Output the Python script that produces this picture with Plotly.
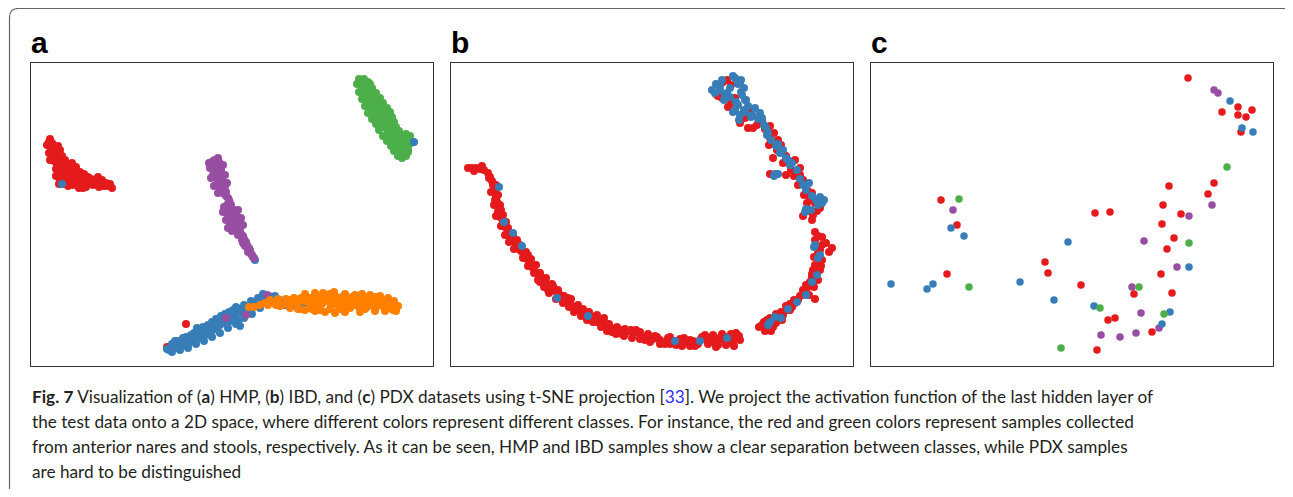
import plotly.graph_objects as go

# page size and the 8px body margin of the html page
PAGE_W, PAGE_H = 1293, 497
OFF = 8
W, H = PAGE_W - OFF, PAGE_H - 2 * OFF

# ---------------- Panel a (HMP) : t-SNE coordinates ----------------
a_red_x = [50,52,51,54,53,56,52,55,58,54,58,61,57,63,60,66,70,62,67,72,65,70,74,78,72,76,60,64,68,73,77,80,82,85,88,90,93,98,97,101,104,108,112,80,86,56,59,
           49,51,55,57,60,53,56,61,63,66,69,75,79,83,87,91,95,99,102,106,110,73,77,81,84,
           47,49,50,60,62,65,58,186,167]
a_red_y = [139,143,147,146,151,150,155,157,155,161,161,164,166,167,170,170,168,174,175,173,179,180,178,176,163,167,180,184,186,185,183,172,180,184,177,182,185,177,184,183,186,186,188,186,187,176,184,
           142,150,153,158,158,159,169,177,160,164,178,181,188,188,180,179,180,187,180,183,184,170,172,176,174,
           145,153,160,150,156,160,146,324,347]
a_green_x = [359,364,360,366,370,363,368,372,366,371,375,369,374,378,371,376,381,374,379,384,377,382,387,380,385,390,383,388,393,387,392,396,390,395,399,393,398,403,408,396,401,406,398,403,408,400,405,
             361,365,362,367,372,369,375,372,378,381,384,387,389,392,395,397,400,403,406,408,411,401,385,376,368,
             368,372,376,380,383,387,390,392,394,396,399,402,406,410,
             357,359,362,365,368,372,376,379,383,387,391,394,398,402]
a_green_y = [79,79,84,84,84,89,89,89,94,94,94,99,99,99,104,104,104,109,109,109,114,114,114,119,119,119,124,124,124,129,129,129,134,134,134,139,139,139,139,144,144,144,149,149,149,154,154,
             81,87,91,97,101,103,107,111,112,117,122,126,131,135,138,142,146,151,156,152,143,155,127,116,106,
             82,88,93,98,103,108,112,117,122,127,131,136,134,136,
             84,92,99,106,113,119,124,130,136,141,146,151,156,158]
a_purple_x = [215,219,212,217,214,219,216,221,218,222,220,224,223,226,229,227,231,225,230,234,228,233,237,231,236,234,238,240,238,243,242,246,245,249,248,251,253,
              213,218,210,221,213,222,216,225,221,226,228,230,224,233,227,235,230,239,236,241,244,243,247,250,252,254,
              209,211,214,223,225,227,218,223,226,238,241,243,228,232,
              226,246,267]
a_purple_y = [160,162,165,167,171,172,176,177,181,183,187,189,193,196,200,205,205,210,211,210,215,216,216,221,222,226,227,231,235,236,240,242,246,248,252,254,257,
              161,158,168,170,175,179,185,186,191,192,198,203,207,212,212,219,224,224,229,234,239,243,245,250,255,258,
              163,178,186,165,175,183,193,212,220,210,218,225,228,231,
              318,315,295]
a_blue_x = [62,414,255,167,171,175,172,179,183,178,187,191,186,195,199,194,203,198,207,203,211,208,215,212,219,216,223,221,228,225,231,230,235,236,240,238,240,244,247,250,252,256,259,262,266,268,272,197,
            169,173,177,181,185,189,193,197,201,205,209,213,217,220,224,227,232,233,237,242,246,249,254,258,262,264,269,275,280,285,290,296,303,
            172,180,188,196,204,212,220,228,236,244,252,260,
            175,183,191,199,207,214,222,229,236,244,251,258,263]
a_blue_y = [184,142,260,349,347,346,344,344,343,341,341,339,337,337,335,333,333,329,331,327,328,325,325,322,322,319,320,316,318,314,314,321,312,318,326,322,310,311,309,312,306,305,303,300,298,302,298,328,
            350,349,348,346,345,343,341,339,337,335,333,330,327,325,323,321,318,310,308,313,312,308,303,301,304,297,296,296,300,305,305,306,305,
            352,350,348,344,341,337,333,328,324,318,314,308,
            341,338,335,331,327,322,317,312,307,305,301,298,294]
a_orange_x = [249,254,260,265,270,274,278,282,286,290,294,297,301,304,308,311,314,317,320,322,325,327,331,333,337,340,343,346,349,352,355,358,361,364,367,370,373,376,379,382,385,388,391,393,312,330,350,365,320,340,
              268,276,284,288,292,299,306,310,316,318,324,328,335,338,342,345,348,353,356,360,363,366,369,372,375,378,381,384,387,390,395,334,323,
              300,305,315,330,345,355,362,370,380,388,394,398,396,385,375,360,345,335,325,315,305,298,290,280]
a_orange_y = [307,307,305,303,300,302,299,301,299,300,298,303,298,301,302,298,303,300,297,304,295,301,305,299,303,298,305,300,304,297,302,306,300,304,307,299,305,297,302,306,303,306,308,310,309,309,308,309,310,309,
              305,305,304,303,302,300,297,306,296,306,300,296,296,306,297,308,299,305,299,308,298,302,305,300,308,298,300,305,302,305,308,292,293,
              309,294,293,294,294,295,294,295,296,298,301,306,311,311,311,312,312,313,312,311,310,309,308,306]

# ---------------- Panel b (IBD) ----------------
b_red_x = [468,472,476,480,484,488,490,492,493,494,495,496,497,498,498,500,503,505,508,511,515,518,522,525,527,530,533,537,542,546,550,555,560,565,570,575,580,585,590,595,600,605,610,615,620,626,633,640,647,653,660,667,673,680,687,693,700,705,710,715,720,725,730,735,739,
           495,500,502,510,520,528,535,540,548,552,558,562,568,578,582,596,604,612,622,636,645,655,665,676,690,698,712,718,728,733,722,736,705,684,670,
           474,482,489,496,491,498,494,501,496,503,506,501,508,505,513,509,517,514,520,526,523,531,528,536,534,540,538,546,544,553,549,558,556,564,563,571,569,577,574,583,581,589,587,597,593,603,601,609,607,617,616,625,624,631,632,640,640,648,650,657,660,668,670,680,682,690,695,702,708,713,716,724,726,731,740,734,
           723,731,718,722,731,750,752,740,753,762,770,770,778,777,773,786,795,800,800,770,786,798,808,810,807,815,813,808,820,
           727,716,735,728,745,757,748,765,774,781,769,783,791,794,803,804,812,817,803,812,
           815,822,815,822,832,818,818,817,815,812,810,808,805,815,802,798,795,792,787,783,778,773,767,762,767,773,782,790,813,820,
           818,826,820,814,822,815,821,812,818,806,814,803,809,800,794,790,786,781,776,770,764,759,765,771,776,829]
b_red_y = [168,168,168,169,170,173,177,181,185,189,193,197,202,207,212,217,222,227,232,237,243,247,252,256,259,263,268,273,278,283,287,291,295,299,303,307,310,312,315,318,322,325,327,329,330,332,333,335,337,339,340,341,341,342,342,341,340,339,338,338,338,337,337,337,336,
           200,205,215,240,245,255,265,282,290,284,290,300,298,305,315,322,318,332,334,330,340,336,344,345,346,344,342,345,341,343,334,333,335,338,337,
           171,166,178,185,192,195,205,210,216,215,222,226,228,235,236,242,240,249,250,252,258,259,266,265,273,273,280,278,287,286,293,292,299,296,303,299,307,306,312,309,316,312,320,315,322,320,327,324,331,327,334,329,336,330,338,332,339,334,342,337,344,338,344,339,346,340,346,337,344,335,347,340,345,334,340,346,
           82,85,96,98,103,110,115,123,128,121,126,138,140,150,158,156,160,168,175,174,175,185,191,198,203,203,215,211,208,
           80,94,98,107,118,125,128,129,133,145,145,163,170,176,180,195,193,211,216,220,
           232,237,240,245,248,253,262,267,272,277,282,287,292,299,295,300,303,307,310,315,318,320,320,325,328,327,320,310,270,270,
           236,243,250,257,260,265,266,274,280,285,287,290,295,296,300,304,306,312,314,318,322,327,331,331,323,252]
b_blue_x = [504,522,557,588,675,700,727,499,513,
            735,740,720,725,742,738,745,735,745,752,760,758,764,768,767,776,780,786,790,775,803,806,820,824,805,818,730,
            733,741,720,715,727,744,741,736,748,740,755,762,766,771,778,783,788,792,797,800,809,812,816,822,806,811,774,778,
            716,722,712,724,730,738,746,744,733,751,739,
            815,820,812,797,788,768,775,817,814,818,806,781,770]
b_blue_y = [222,246,298,316,341,341,338,187,233,
            78,82,90,96,95,105,100,110,112,115,113,119,125,133,135,146,153,158,165,174,185,190,197,200,212,205,88,
            76,80,86,93,93,88,92,102,106,115,108,118,128,140,144,150,160,163,170,179,183,196,200,203,209,210,176,174,
            84,80,90,100,97,84,100,110,112,117,120,
            245,255,282,302,309,325,317,275,247,258,295,318,322]

# ---------------- Panel c (PDX) ----------------
c_red_x = [1188,1222,1238,1238,1246,1252,1241,941,957,947,1169,1214,1208,1163,1181,1095,1110,1162,1174,1167,1045,1048,1081,1161,1134,1172,1108,1115,1152,1097]
c_red_y = [78,112,107,115,117,110,132,200,225,274,186,183,194,205,214,213,212,224,238,249,262,273,285,274,294,293,320,318,332,350]
c_blue_x = [1230,1242,1253,951,964,891,927,933,1020,1068,1054,1094,1189,1170,1162]
c_blue_y = [101,128,132,228,236,284,289,284,282,242,300,306,267,312,324]
c_green_x = [1227,959,969,1189,1139,1100,1164,1061]
c_green_y = [167,199,287,243,287,308,314,348]
c_purple_x = [1214,1218,953,1189,1212,1144,1177,1132,1141,1136,1159,1101,1120]
c_purple_y = [90,93,210,216,205,241,267,287,313,333,328,335,337]

RED, BLUE, GREEN, PURPLE, ORANGE = "#e41a1c", "#377eb8", "#4daf4a", "#984ea3", "#ff7f00"

panel_labels = ["a", "b", "c"]
caption_lines = [
    "<b>Fig. 7</b> Visualization of (<b>a</b>) HMP, (<b>b</b>) IBD, and (<b>c</b>) PDX datasets using t-SNE projection [<span style='color:#2b2bff'>33</span>]. We project the activation function of the last hidden layer of",
    "the test data onto a 2D space, where different colors represent different classes. For instance, the red and green colors represent samples collected",
    "from anterior nares and stools, respectively. As it can be seen, HMP and IBD samples show a clear separation between classes, while PDX samples",
    "are hard to be distinguished",
]


def px(x):
    return (x - OFF) / W


def py(y):
    return 1 - (y - OFF) / H


fig = go.Figure()


def add(xs, ys, color, ax, size=8):
    fig.add_trace(go.Scatter(
        x=xs, y=ys, mode="markers",
        marker=dict(color=color, size=size, line=dict(width=0)),
        xaxis="x" + ax, yaxis="y" + ax, showlegend=False, hoverinfo="skip"))


add(a_red_x, a_red_y, RED, "")
add(a_green_x, a_green_y, GREEN, "")
add(a_blue_x, a_blue_y, BLUE, "")
add(a_purple_x, a_purple_y, PURPLE, "")
add(a_orange_x, a_orange_y, ORANGE, "")

add(b_red_x, b_red_y, RED, "2")
add(b_blue_x, b_blue_y, BLUE, "2")

add(c_purple_x, c_purple_y, PURPLE, "3", 7.5)
add(c_red_x, c_red_y, RED, "3", 7.5)
add(c_blue_x, c_blue_y, BLUE, "3", 7.5)
add(c_green_x, c_green_y, GREEN, "3", 7.5)

panels = [(31, 433), (451, 853), (871, 1273)]
top, bottom = 62.5, 366
ydom = [py(bottom), py(top)]

axis_common = dict(showgrid=False, zeroline=False, showticklabels=False, ticks="",
                   showline=True, mirror=True, linecolor="#333333", linewidth=1)
layout = dict(width=W, height=H, margin=dict(l=0, r=0, t=0, b=0),
              paper_bgcolor="white", plot_bgcolor="white", showlegend=False)
for i, (l, r) in enumerate(panels):
    sfx = "" if i == 0 else str(i + 1)
    layout["xaxis" + sfx] = dict(axis_common, domain=[px(l), px(r)], range=[l, r],
                                 anchor="y" + sfx)
    layout["yaxis" + sfx] = dict(axis_common, domain=ydom, range=[bottom, top],
                                 anchor="x" + sfx)
fig.update_layout(**layout)

# panel letters
for (l, r), lab in zip(panels, panel_labels):
    fig.add_annotation(x=px(l - 1), y=py(60), xref="paper", yref="paper",
                       xanchor="left", yanchor="bottom", text="<b>%s</b>" % lab,
                       showarrow=False, font=dict(family="Liberation Sans", size=30, color="black"),
                       borderpad=0)

# caption
for k, line in enumerate(caption_lines):
    fig.add_annotation(x=px(31), y=py(396 + 25.0 * k), xref="paper", yref="paper",
                       xanchor="left", yanchor="middle", text=line, showarrow=False,
                       font=dict(family="Lato", size=17.2, color="#231f20"), borderpad=0)

# outer rounded frame
x0, x1, yt = 9.5, 1291.5, 8.5
r = 9
path = (f"M {px(x0)},{py(PAGE_H + 20)} L {px(x0)},{py(yt + r)} Q {px(x0)},{py(yt)} {px(x0 + r)},{py(yt)} "
        f"L {px(x1 - r)},{py(yt)} Q {px(x1)},{py(yt)} {px(x1)},{py(yt + r)} L {px(x1)},{py(PAGE_H + 20)}")
fig.add_shape(type="path", path=path, xref="paper", yref="paper",
              line=dict(color="#666666", width=1.2))

fig.write_html("out.html")
